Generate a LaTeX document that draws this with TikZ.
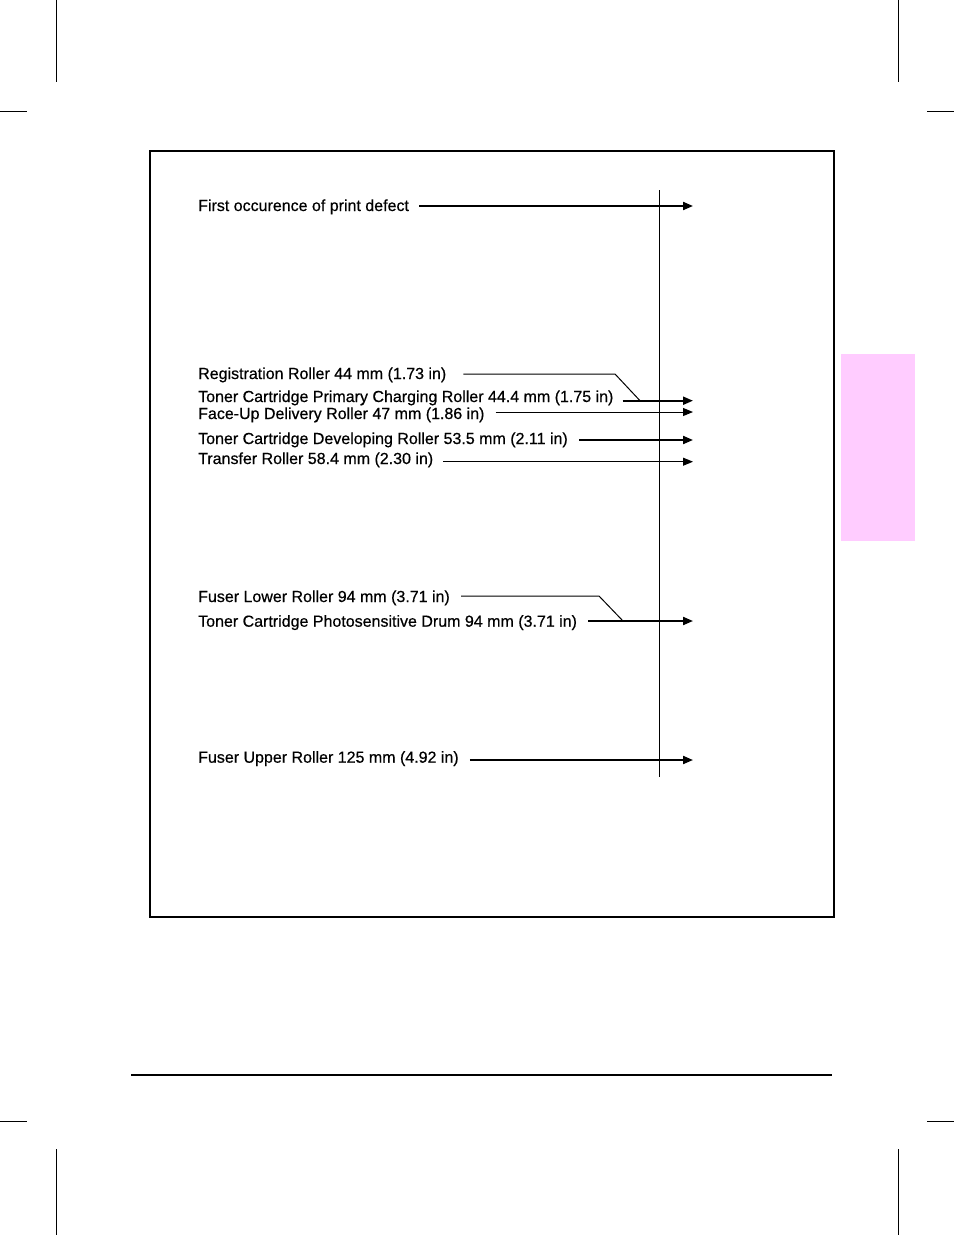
\documentclass[tikz,border=0pt]{standalone}
\usepackage{fontspec}
\setmainfont{Liberation Sans}
\newfontfamily\lblfont[FakeBold=0.5]{Liberation Sans}
\usetikzlibrary{arrows.meta}
\definecolor{tabpink}{HTML}{FFCCFF}
\tikzset{lbl/.style={anchor=base west, inner sep=0pt, font=\lblfont\fontsize{16}{19}\selectfont}}
\tikzset{thinarr/.style={-{Triangle[length=10pt,width=8pt]}, line width=1pt}}
\tikzset{thickarr/.style={-{Triangle[length=10pt,width=8pt]}, line width=2pt}}

\begin{document}
\begin{tikzpicture}[x=1pt,y=-1pt]
\useasboundingbox (0,0) rectangle (954,1235);
% crop marks
\foreach \cx/\hx in {56/0,898/927} {
\draw[line width=1pt] (\cx,0) -- (\cx,82);
\draw[line width=1pt] (\hx,111) -- (\hx+27,111);
\draw[line width=1pt] (\cx,1149) -- (\cx,1235);
\draw[line width=1pt] (\hx,1121) -- (\hx+27,1121);
}
\fill[tabpink] (841,354) rectangle (915,541);
\draw[line width=1.5pt] (150,151) rectangle (834,917);
\draw[line width=2pt] (131,1075) -- (832,1075);
\draw[line width=1pt] (659,190) -- (659,777);
% labels
\node[lbl] (first) at (198,211) {First occurence of print defect};
\node[lbl] (reg) at (198,379) {Registration Roller 44 mm (1.73 in)};
\node[lbl] (charge) at (198,402) {Toner Cartridge Primary Charging Roller 44.4 mm (1.75 in)};
\node[lbl] (faceup) at (198,419) {Face-Up Delivery Roller 47 mm (1.86 in)};
\node[lbl] (develop) at (198,444) {Toner Cartridge Developing Roller 53.5 mm (2.11 in)};
\node[lbl] (transfer) at (198,464) {Transfer Roller 58.4 mm (2.30 in)};
\node[lbl] (fuserlow) at (198,602) {Fuser Lower Roller 94 mm (3.71 in)};
\node[lbl] (drum) at (198,626.7) {Toner Cartridge Photosensitive Drum 94 mm (3.71 in)};
\node[lbl] (fuserup) at (198,762.7) {Fuser Upper Roller 125 mm (4.92 in)};
% arrow tips
\coordinate (firsttip) at (693,206);
\coordinate (chargetip) at (693,400.7);
\coordinate (faceuptip) at (693,412);
\coordinate (developtip) at (693,440);
\coordinate (transfertip) at (693,461.7);
\coordinate (drumtip) at (693,621);
\coordinate (fuseruptip) at (693,760);
\coordinate (regbend) at (615,374);
\coordinate (regjoin) at (640,400.7);
\coordinate (fuserlowbend) at (599,596);
\coordinate (fuserlowjoin) at (623,621);
% connectors
\draw[thickarr] ([xshift=10pt]first.east |- firsttip) -- (firsttip);
\draw[line width=1pt] ([xshift=17pt]reg.east |- regbend) -- (regbend) -- (regjoin);
\draw[thickarr] ([xshift=9pt]charge.east |- chargetip) -- (chargetip);
\draw[thinarr] ([xshift=11pt]faceup.east |- faceuptip) -- (faceuptip);
\draw[thickarr] ([xshift=11pt]develop.east |- developtip) -- (developtip);
\draw[thinarr] ([xshift=10pt]transfer.east |- transfertip) -- (transfertip);
\draw[line width=1pt] ([xshift=11pt]fuserlow.east |- fuserlowbend) -- (fuserlowbend) -- (fuserlowjoin);
\draw[thickarr] ([xshift=11pt]drum.east |- drumtip) -- (drumtip);
\draw[thickarr] ([xshift=11pt]fuserup.east |- fuseruptip) -- (fuseruptip);
\end{tikzpicture}
\end{document}
